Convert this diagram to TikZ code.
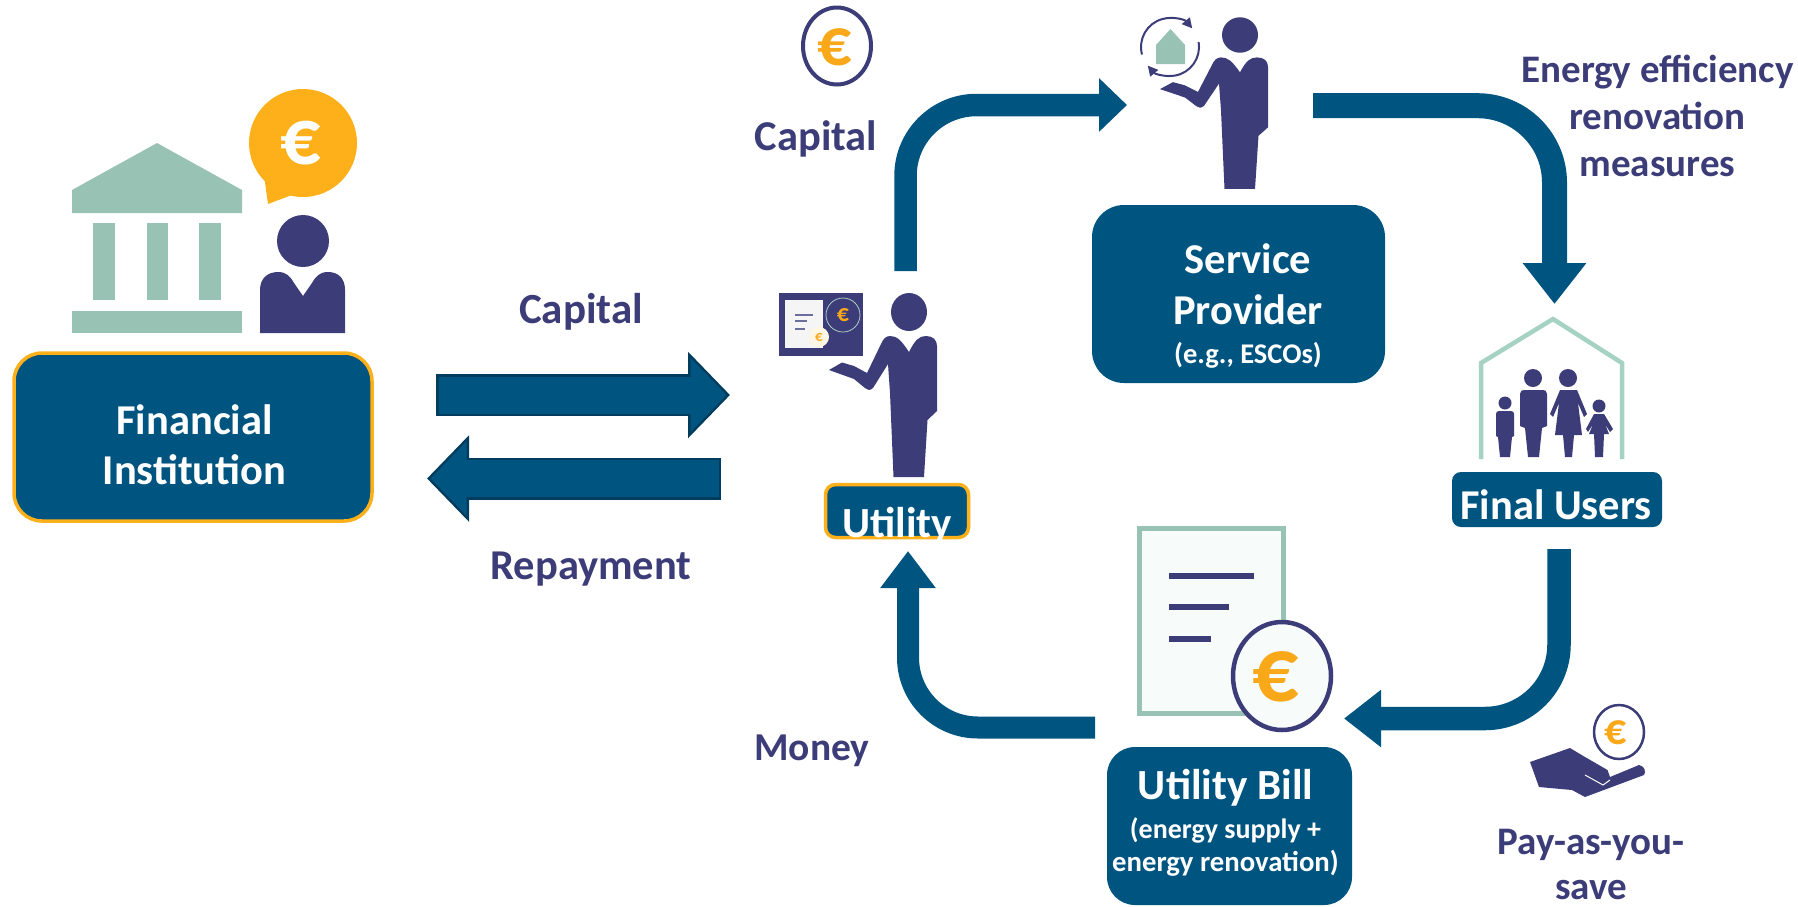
\documentclass[tikz,border=0pt]{standalone}
\usepackage{fontspec}
\setmainfont{Carlito}
\usetikzlibrary{arrows.meta}
\definecolor{boxblue}{HTML}{005480}
\definecolor{darkedge}{HTML}{003C5E}
\definecolor{navy}{HTML}{3B3C78}
\definecolor{amber}{HTML}{FDB01A}
\definecolor{coinor}{HTML}{F9A81A}
\definecolor{mint}{HTML}{98C3B4}
\definecolor{lightmint}{HTML}{A5D2C3}
\definecolor{paleface}{HTML}{F7FBFA}
\newcommand{\fsz}[1]{\fontsize{#1}{#1}\selectfont\bfseries}
\tikzset{
  x=1pt,y=-1pt,
  blockbox/.style={fill=boxblue,rounded corners=#1,inner sep=0pt,draw=none},
  goldedge/.style={draw=amber,line width=3.5pt},
  whitetext/.style={text=white,inner sep=0pt,anchor=base,yshift=-1.5pt},
  navytext/.style={text=navy,inner sep=0pt,anchor=base,yshift=-1.5pt},
  euro/.style={inner sep=0pt,anchor=center},
  flowline/.style n args={3}{draw=boxblue,line width=#1pt,line cap=butt,-{Triangle[length=#2pt,width=#3pt]}},
  fatouter/.style={draw=darkedge,line width=42pt,-{Triangle[length=42pt,width=84pt]}},
  fatinner/.style={draw=boxblue,line width=37pt,-{Triangle[length=36pt,width=72pt]}},
  pics/man/.style={code={
    \fill[navy] (0,0) ellipse[x radius=18pt,y radius=19pt];
    \fill[navy] (-19,24) .. controls (-12,24) and (-8,28) .. (0,40)
      .. controls (6,28) and (10,24) .. (17,24)
      .. controls (24,24) and (28,28) .. (28,34) -- (28,99) -- (18.5,108) -- (15,165) -- (-15.5,165)
      -- (-19,81) -- (-21,52) -- (-36,76) .. controls (-39,79) and (-42,78) .. (-44,76)
      -- (-55,67) -- (-80,58) -- (-67,50.5) -- (-55,54) -- (-42,61) -- (-28,32)
      .. controls (-26,27) and (-23,24) .. (-19,24) -- cycle;
  }},
}
\begin{document}
\begin{tikzpicture}
\useasboundingbox (0,0) rectangle (1798,906);
% ---- named end points of the connectors
\coordinate (rs) at (436,395);   \coordinate (re) at (730,395);
\coordinate (ls) at (721,478.5); \coordinate (le) at (427,478.5);
\coordinate (capA) at (905.5,271); \coordinate (capB) at (905.5,105); \coordinate (capC) at (1127,105);
\coordinate (enA) at (1313,105.7); \coordinate (enB) at (1554.5,105.7); \coordinate (enC) at (1554.5,304);
\coordinate (payA) at (1559,549);  \coordinate (payB) at (1559,718.5); \coordinate (payC) at (1344,718.5);
\coordinate (monA) at (1095,727.5); \coordinate (monB) at (908,727.5); \coordinate (monC) at (908,551);

% ---- boxes
\node[blockbox=28pt,goldedge,minimum width=358pt,minimum height=168pt] (fin) at (193,437) {};
\node[blockbox=10pt,goldedge,minimum width=143pt,minimum height=53pt] (util) at (897,511) {};
\node[blockbox=32pt,minimum width=293pt,minimum height=178pt] (serv) at (1238.5,294) {};
\node[blockbox=9pt,minimum width=210pt,minimum height=55pt] (final) at (1557,499.5) {};
\node[blockbox=28pt,minimum width=245pt,minimum height=158pt] (bill) at (1229.5,826) {};

% ---- box labels
\node[whitetext,font=\fsz{42.5}] (finA) at (194.5,433) {Financial};
\node[whitetext,font=\fsz{42.5}] (finB) at (194.5,483) {Institution};
\node[whitetext,font=\fsz{43}] (utilT) at (897,536) {Utility};
\node[whitetext,font=\fsz{42.5}] (servA) at (1248,272) {Service};
\node[whitetext,font=\fsz{42.5}] (servB) at (1248,323) {Provider};
\node[whitetext,font=\fsz{28.5}] (servC) at (1248,362) {(e.g., ESCOs)};
\node[whitetext,font=\fsz{42.5}] (finalT) at (1556,518) {Final Users};
\node[whitetext,font=\fsz{43}] (billA) at (1225.5,798) {Utility Bill};
\node[whitetext,font=\fsz{28}] (billB) at (1225.5,837) {(energy supply +};
\node[whitetext,font=\fsz{28.7}] (billC) at (1225.5,870) {energy renovation)};

% ---- free labels
\node[navytext,font=\fsz{43}] (capL) at (581,322) {Capital};
\node[navytext,font=\fsz{42.5}] (repL) at (591,578) {Repayment};
\node[navytext,font=\fsz{42.5}] (capU) at (816,149) {Capital};
\node[navytext,font=\fsz{39.5}] (monL) at (812,759) {Money};
\node[navytext,font=\fsz{39}] (enA1) at (1657.5,81) {Energy efficiency};
\node[navytext,font=\fsz{39}] (enA2) at (1657.5,128) {renovation};
\node[navytext,font=\fsz{39}] (enA3) at (1657.5,175) {measures};
\node[navytext,font=\fsz{39}] (payL1) at (1591,853) {Pay-as-you-};
\node[navytext,font=\fsz{39}] (payL2) at (1591,898) {save};

% ---- connectors
\draw[fatouter] (rs) -- (re);
\draw[fatinner] ([xshift=2.5pt]rs) -- ([xshift=-3.5pt]re);
\draw[fatouter] (ls) -- (le);
\draw[fatinner] ([xshift=-2.5pt]ls) -- ([xshift=3.5pt]le);
\draw[flowline={22.5}{28}{52},rounded corners=71pt] (capA) -- (capB) -- (capC);
\draw[flowline={25}{41}{61},rounded corners=77pt] (enA) -- (enB) -- (enC);
\draw[flowline={23.5}{37}{55},rounded corners=74pt] (payA) -- (payB) -- (payC);
\draw[flowline={22}{37}{53},rounded corners=70pt] (monA) -- (monB) -- (monC);

% ---- bank and banker
\fill[mint] (157,143) -- (242,190) -- (242,213) -- (72,213) -- (72,190) -- cycle;
\fill[mint] (93,223) rectangle (115,300);
\fill[mint] (147,223) rectangle (168,300);
\fill[mint] (199,223) rectangle (221,300);
\fill[mint] (72,311) rectangle (242,333);
\fill[amber] (303,143) circle[radius=54pt];
\fill[amber] (264,175) -- (268,204) -- (292,195) -- cycle;
\node[euro,text=white,font=\fsz{80}] (eurB) at (301,143) {€};
\fill[navy] (303,241) circle[radius=26pt];
\fill[navy] (260,333) -- (260,290) .. controls (260,278) and (268,272) .. (278,272)
  .. controls (286,272) and (290,276) .. (294,283) -- (303,296) -- (312,283)
  .. controls (316,276) and (320,272) .. (328,272) .. controls (338,272) and (345,278) .. (345,290)
  -- (345,333) -- cycle;

% ---- coin above Capital
\draw[navy,line width=4pt] (837,46) ellipse[x radius=34pt,y radius=38.5pt];
\node[euro,text=coinor,font=\fsz{68}] (eurC) at (835,47) {€};

% ---- utility man and his board
\pic at (909,312) {man};
\fill[navy] (779,293) rectangle (863,356);
\fill[black!4] (785,300) rectangle (823,348);
\fill[navy!75] (795,314) rectangle (813,316);
\fill[navy!75] (795,320) rectangle (807,322);
\fill[navy!75] (795,328) rectangle (805,330);
\draw[mint!80!white,line width=.8pt] (843,315) circle[radius=17pt];
\node[euro,text=coinor,font=\fsz{24}] (eurU1) at (843,315) {€};
\fill[white!88!amber] (819,337) circle[radius=10pt];
\node[euro,text=coinor,font=\fsz{15}] (eurU2) at (819,337) {€};

% ---- provider man and his cycle
\pic[yscale=.933] at (1240,35) {man};
\fill[mint] (1156,45) -- (1170.5,29) -- (1185,45) -- (1185,64) -- (1156,64) -- cycle;
\coordinate (cyc) at (1170,47);
\draw[navy,line width=2pt,-{Triangle[length=10pt,width=10pt]}] ([shift={(195:29pt)}]cyc) arc[start angle=195,end angle=40,radius=29pt];
\draw[navy,line width=2pt,-{Triangle[length=10pt,width=10pt]}] ([shift={(10:29pt)}]cyc) arc[start angle=10,end angle=-140,radius=29pt];

% ---- family house
\draw[lightmint,line width=4.5pt,line join=miter] (1481,459) -- (1481,363) -- (1553,319) -- (1622,363) -- (1622,459);
% child
\fill[navy] (1505,403) circle[radius=6.5pt];
\fill[navy] (1496,414) .. controls (1496,412) and (1497,411) .. (1499,411) -- (1511,411) .. controls (1513,411) and (1514,412) .. (1514,414)
  -- (1514,436) -- (1512,437) -- (1510,457) -- (1500,457) -- (1498,437) -- (1496,436) -- cycle;
% father
\fill[navy] (1533,378) circle[radius=9pt];
\fill[navy] (1520,394) .. controls (1520,391) and (1522,390) .. (1524,390) -- (1543,390) .. controls (1545,390) and (1547,391) .. (1547,394)
  -- (1547,426) -- (1542,428) -- (1539,457) -- (1528,457) -- (1525,428) -- (1520,426) -- cycle;
% mother
\fill[navy] (1568,378) circle[radius=9pt];
\fill[navy] (1560,390) -- (1577,390) -- (1587,414) -- (1584,417) -- (1578,403) -- (1582,435) -- (1574,435) -- (1572,457) -- (1565,457) -- (1563,435) -- (1555,435) -- (1559,403) -- (1553,417) -- (1550,414) -- cycle;
% girl
\fill[navy] (1599,406) circle[radius=6.5pt];
\fill[navy] (1594,414) -- (1604,414) -- (1613,429) -- (1610,432) -- (1605,424) -- (1609,434) -- (1604,434) -- (1603,457) -- (1595,457) -- (1594,434) -- (1589,434) -- (1593,424) -- (1588,432) -- (1586,429) -- cycle;

% ---- bill
\draw[mint,line width=5pt,fill=paleface] (1139,713) rectangle (1283,528);
\fill[navy] (1169,573) rectangle (1254,579);
\fill[navy] (1169,604) rectangle (1229,610);
\fill[navy] (1169,636) rectangle (1211,642);
\draw[navy,line width=4.5pt,fill=paleface] (1282,676) ellipse[x radius=49pt,y radius=54pt];
\node[euro,text=coinor,font=\fsz{92}] (eurBill) at (1276,677) {€};

% ---- hand with coin
\fill[navy] (1530,762) -- (1570,748) -- (1585,757) -- (1607.5,770) -- (1610,777) -- (1639,765) .. controls (1645,766) and (1646,772) .. (1644,775) -- (1585,797) -- (1572,790) -- (1539,787) -- cycle;
\draw[white,line width=1pt] (1585,775) -- (1603,785) -- (1610,780);
\draw[navy,line width=2.5pt,fill=white] (1619,732) ellipse[x radius=25pt,y radius=27pt];
\node[euro,text=coinor,font=\fsz{44}] (eurP) at (1616,733) {€};
\end{tikzpicture}
\end{document}
